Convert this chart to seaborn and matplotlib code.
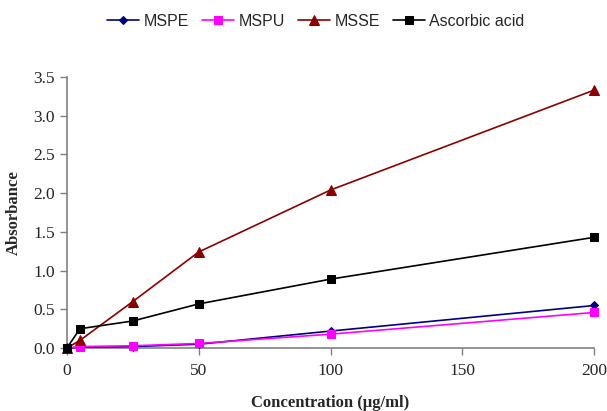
import numpy as np
import pandas as pd
import matplotlib
matplotlib.use('Agg')
import matplotlib.pyplot as plt
import seaborn as sns

# concentrations (ug/ml)
conc = [0, 5, 25, 50, 100, 200]
mspe = [0.0, 0.01, 0.02, 0.05, 0.22, 0.55]
mspu = [0.0, 0.02, 0.03, 0.06, 0.18, 0.46]
msse = [0.0, 0.10, 0.60, 1.24, 2.04, 3.33]
ascorbic = [0.0, 0.25, 0.35, 0.57, 0.89, 1.43]

series = ["MSPE", "MSPU", "MSSE", "Ascorbic acid"]
values = [mspe, mspu, msse, ascorbic]

rows = []
for name, vals in zip(series, values):
    for c, v in zip(conc, vals):
        rows.append({"Concentration": c, "Absorbance": v, "Sample": name})
df = pd.DataFrame(rows)

sns.set_style("white")
plt.rcParams['font.family'] = ['Liberation Serif', 'DejaVu Serif']

fig = plt.figure(figsize=(6.07, 4.11), dpi=100)
ax = fig.add_axes([0.110, 0.153, 0.869, 0.660])

palette = {"MSPE": "#000080", "MSPU": "#ff00ff", "MSSE": "#8b0000", "Ascorbic acid": "#000000"}
markers = {"MSPE": "D", "MSPU": "s", "MSSE": "^", "Ascorbic acid": "s"}
sizes = {"MSPE": 4.5, "MSPU": 6, "MSSE": 6.5, "Ascorbic acid": 6}

for name in series:
    sub = df[df["Sample"] == name]
    sns.lineplot(data=sub, x="Concentration", y="Absorbance", ax=ax,
                 color=palette[name], marker=markers[name],
                 markersize=sizes[name], markeredgecolor=palette[name],
                 linewidth=1.2, label=name, clip_on=False, zorder=3)

ax.set_xlim(0, 200)
ax.set_ylim(0, 3.5)
ax.set_xticks([0, 50, 100, 150, 200])
ax.set_yticks(np.arange(0, 3.51, 0.5))
ax.set_yticklabels([f"{t:.1f}" for t in np.arange(0, 3.51, 0.5)])
ax.tick_params(axis='both', direction='out', length=5, width=1, color='#808080',
               labelsize=12.5, bottom=True, left=True)
ax.tick_params(axis='x', pad=6)
for s in ["top", "right"]:
    ax.spines[s].set_visible(False)
for s in ["left", "bottom"]:
    ax.spines[s].set_color('#808080')
    ax.spines[s].set_linewidth(1.2)

ax.set_xlabel("Concentration (µg/ml)", fontsize=12, fontweight='bold', labelpad=11)
ax.set_ylabel("Absorbance", fontsize=12, fontweight='bold', labelpad=8)

ax.legend(loc='upper center', bbox_to_anchor=(0.472, 1.285), ncol=4, frameon=False,
          prop={'family': 'Liberation Sans', 'size': 11.5}, handlelength=2.0,
          columnspacing=0.8, handletextpad=0.3)

fig.savefig("out.png", dpi=100)
